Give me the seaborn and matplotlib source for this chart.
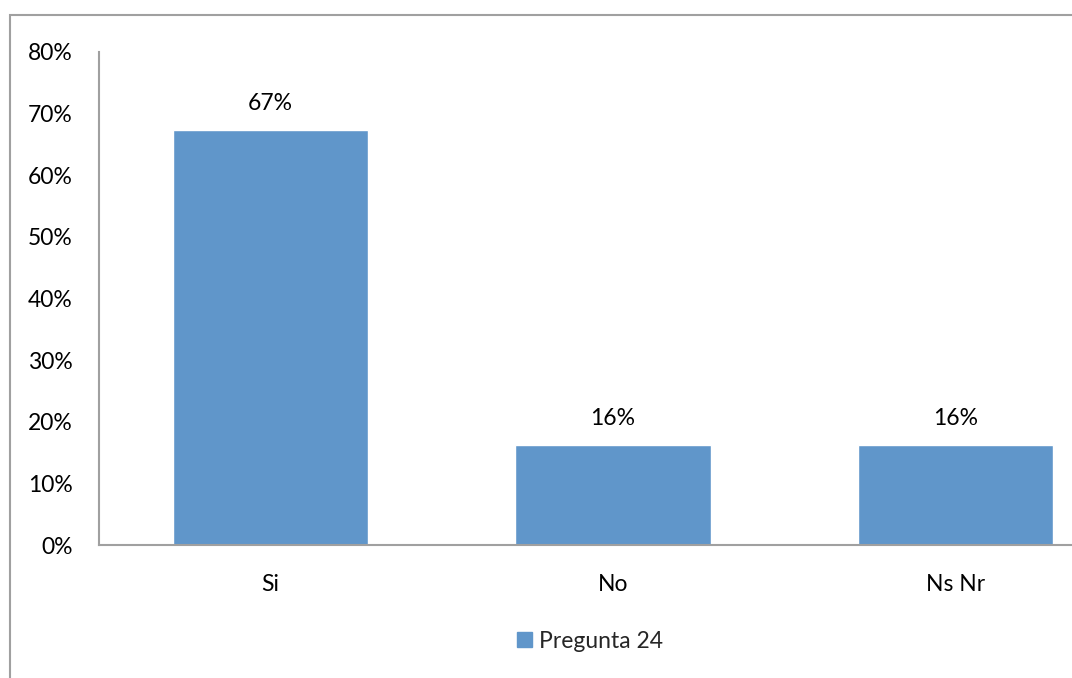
import pandas as pd
import matplotlib.pyplot as plt
import seaborn as sns
from matplotlib.patches import Rectangle, Patch
from matplotlib.ticker import PercentFormatter

# Chart data
categories = ['Si', 'No', 'Ns Nr']
values = [0.673, 0.163, 0.163]
value_labels = ['67%', '16%', '16%']
series_name = 'Pregunta 24'

data = pd.DataFrame({'respuesta': categories, 'valor': values})

sns.set_style('white')
plt.rcParams['font.family'] = ['Lato', 'DejaVu Sans']

bar_color = '#6096ca'
axis_color = '#a0a0a0'
fsize = 16.5

fig = plt.figure(figsize=(10.72, 6.78), dpi=100)
# axes runs past the right edge, like the cropped original
ax = fig.add_axes([99 / 1072, (678 - 545) / 678, 1028 / 1072, 493 / 678])

sns.barplot(data=data, x='respuesta', y='valor', color=bar_color,
            width=0.57, saturation=1, ax=ax)

# value labels above the bars
for i, (v, lab) in enumerate(zip(values, value_labels)):
    ax.annotate(lab, (i, v), xytext=(0, 19), textcoords='offset points',
                ha='center', va='center', fontsize=fsize, color='#000000')

ax.set_ylim(0, 0.8)
ax.set_xlim(-0.5, 2.5)
ax.set_yticks([i / 10 for i in range(9)])
ax.yaxis.set_major_formatter(PercentFormatter(1.0, decimals=0))
ax.tick_params(axis='both', length=0, labelsize=fsize, colors='#000000')
ax.tick_params(axis='x', pad=21)
ax.tick_params(axis='y', pad=19)
ax.set_xlabel('')
ax.set_ylabel('')

for side in ['top', 'right']:
    ax.spines[side].set_visible(False)
for side in ['left', 'bottom']:
    ax.spines[side].set_color(axis_color)
    ax.spines[side].set_linewidth(1.5)

# legend below the plot
fig.legend(handles=[Patch(color=bar_color, label=series_name)],
           loc='center', bbox_to_anchor=(590 / 1072, (678 - 641) / 678),
           frameon=False, fontsize=fsize, handlelength=0.65, handleheight=0.65,
           handletextpad=0.3)

# outer chart border (cropped on right and bottom)
fig.patches.append(Rectangle((10 / 1072, -0.1), 1.2, (678 - 15) / 678 + 0.1,
                             transform=fig.transFigure, fill=False,
                             edgecolor=axis_color, linewidth=1.5))

plt.savefig('out.png', dpi=100)
plt.close()
